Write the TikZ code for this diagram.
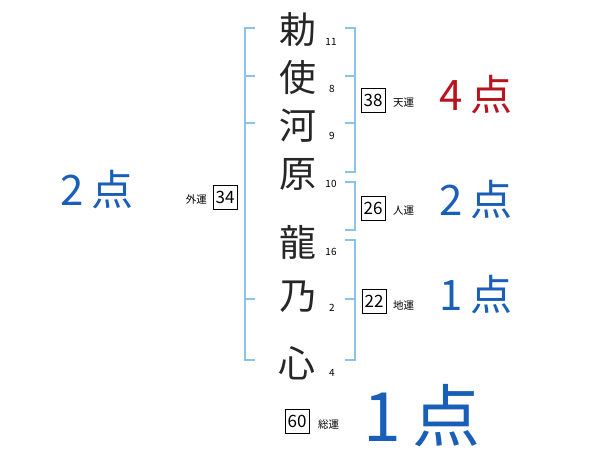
\documentclass[tikz,border=0pt]{standalone}
\usepackage{fontspec}
\newfontfamily\jp{Noto Sans CJK JP}
\definecolor{brk}{RGB}{140,195,235}
\definecolor{bluetxt}{RGB}{25,95,185}
\definecolor{redtxt}{RGB}{185,20,30}
\begin{document}
\begin{tikzpicture}[x=1pt,y=-1pt,
  kanji/.style={font=\jp\fontsize{37}{37}\selectfont, text=black!85, inner sep=0pt},
  stroke/.style={font=\jp\fontsize{10}{10}\selectfont, inner sep=0pt},
  numbox/.style={draw=black, line width=0.7pt, minimum width=24pt, minimum height=24pt, inner sep=0pt, font=\jp\fontsize{17}{17}\selectfont},
  lbl/.style={font=\jp\fontsize{10.5}{10.5}\selectfont, inner sep=0pt},
  score/.style={font=\jp\fontsize{42}{42}\selectfont, inner sep=0pt},
  bigscore/.style={font=\jp\fontsize{68}{68}\selectfont, inner sep=0pt, text=bluetxt},
  bline/.style={draw=brk, line width=1.5pt}
]
\useasboundingbox (0,0) rectangle (600,470);
% kanji
\node[kanji] (k1) at (298,30) {勅};
\node[kanji] (k2) at (298,77) {使};
\node[kanji] (k3) at (298,126) {河};
\node[kanji] (k4) at (298,174) {原};
\node[kanji] (k5) at (298,242) {龍};
\node[kanji] (k6) at (298,297) {乃};
\node[kanji] (k7) at (297,363) {心};
% stroke counts
\node[stroke] (s1) at (331,42) {11};
\node[stroke] (s2) at (332,89) {8};
\node[stroke] (s3) at (332,136) {9};
\node[stroke] (s4) at (331,184) {10};
\node[stroke] (s5) at (331,252) {16};
\node[stroke] (s6) at (332,308) {2};
\node[stroke] (s7) at (332,373) {4};
% left bracket
\coordinate (lt) at (245,28);
\coordinate (lb) at (245,360);
\draw[bline] (255,28) -- (lt) -- (lb) -- (255,360);
\draw[bline] (245,76) -- (255,76);
\draw[bline] (245,123) -- (255,123);
\draw[bline] (245,299) -- (255,299);
% right brackets
\draw[bline] (345,28) -- (355,28) -- (355,172) -- (345,172);
\draw[bline] (345,76) -- (355,76);
\draw[bline] (345,123) -- (355,123);
\draw[bline] (345,182) -- (355,182) -- (355,230) -- (345,230);
\draw[bline] (345,240) -- (355,240) -- (355,360) -- (345,360);
\draw[bline] (345,299) -- (355,299);
% boxes and labels
\node[numbox] (gai) at (225,197) {34};
\node[lbl, anchor=east] (gail) at (207,199) {外運};
\node[numbox] (ten) at (373,100) {38};
\node[lbl, anchor=west] (tenl) at (393,103) {天運};
\node[numbox] (jin) at (373,208) {26};
\node[lbl, anchor=west] (jinl) at (393,211) {人運};
\node[numbox] (chi) at (374,301) {22};
\node[lbl, anchor=west] (chil) at (393,305) {地運};
\node[numbox] (sou) at (297,421) {60};
\node[lbl, anchor=west] (soul) at (318,424) {総運};
% scores
\node[score, text=redtxt] (sc1) at (476,95) {4\,点};
\node[score, text=bluetxt] (sc2) at (476,200) {2\,点};
\node[score, text=bluetxt] (sc3) at (476,295) {1\,点};
\node[score, text=bluetxt] (sc4) at (97,190) {2\,点};
\node[bigscore] (sc5) at (422,416) {1\,点};
\end{tikzpicture}
\end{document}
